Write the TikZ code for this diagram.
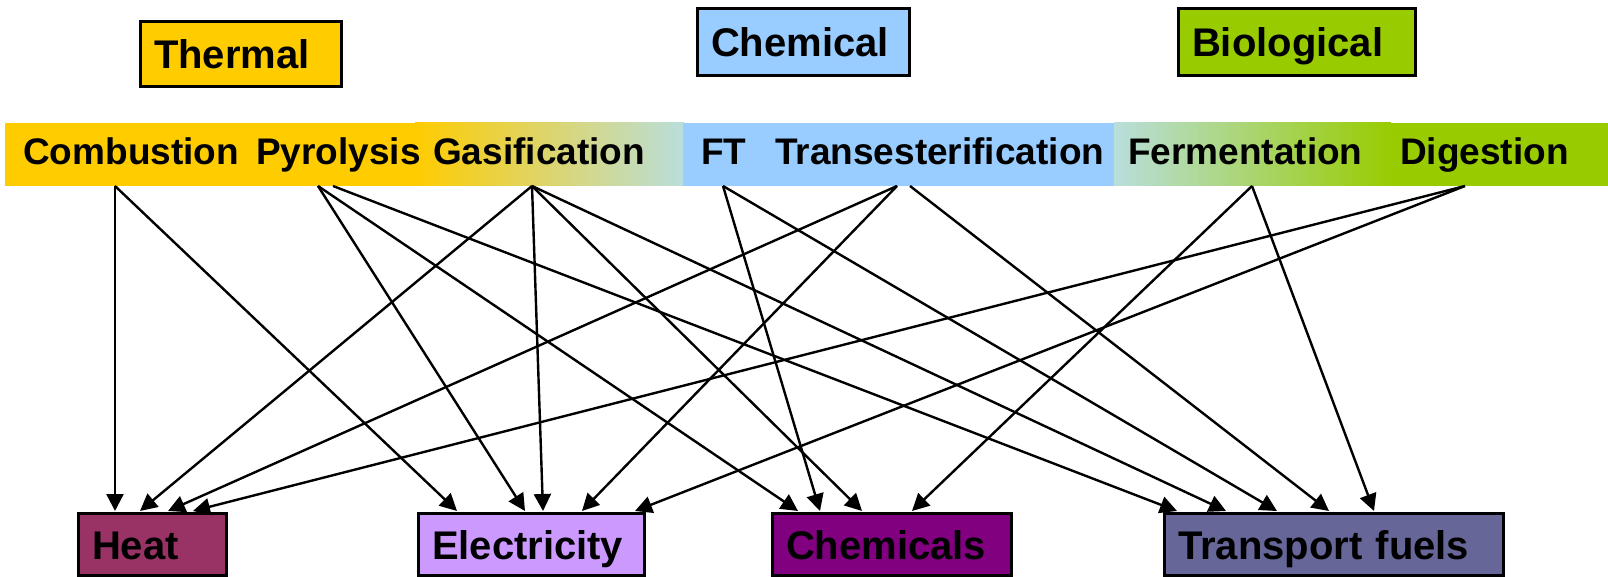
\documentclass[tikz,border=0pt]{standalone}
\usepackage{fontspec}
\setmainfont{Liberation Sans}
\usetikzlibrary{arrows.meta}
\definecolor{thermalc}{HTML}{FFCC00}
\definecolor{chemc}{HTML}{99CCFF}
\definecolor{bioc}{HTML}{99CC00}
\definecolor{tealc}{HTML}{B9DEDC}
\definecolor{heatc}{HTML}{993366}
\definecolor{elecc}{HTML}{CC99FF}
\definecolor{chemsc}{HTML}{800080}
\definecolor{fuelc}{HTML}{666699}
\begin{document}
\begin{tikzpicture}[x=1pt,y=-1pt,
  catbox/.style={draw=black, line width=3pt, inner xsep=13.5pt, inner ysep=0pt,
    text height=29pt, text depth=0pt, align=left,
    font=\fontsize{40pt}{44pt}\selectfont\bfseries, anchor=center},
  bandtxt/.style={inner sep=0pt, anchor=base west,
    font=\fontsize{37pt}{42pt}\selectfont\bfseries},
  flow/.style={line width=2.4pt, -{Triangle[length=17pt,width=17pt]}}
]
\useasboundingbox (0,0) rectangle (1608,577);
% category boxes
\node[catbox, fill=thermalc, minimum width=201pt, text width=174pt, minimum height=65pt] (thermal) at (241,54) {Thermal};
\node[catbox, fill=chemc, minimum width=212pt, text width=185pt, minimum height=67pt] (chemical) at (803.5,42) {Chemical};
\node[catbox, fill=bioc, minimum width=237pt, text width=210pt, minimum height=67pt] (biological) at (1297,42) {Biological};
% process band
\fill[thermalc] (5,123) rectangle (416,186);
\shade[left color=thermalc, right color=tealc] (415,123) rectangle (684,186);
\fill[chemc] (683,123) rectangle (1115,186);
\shade[left color=tealc, right color=bioc] (1114,123) rectangle (1391,186);
\fill[bioc] (1390,123) rectangle (1608,186);
\node[bandtxt] (comb) at (23,165) {Combustion};
\node[bandtxt] (pyro) at (256,165) {Pyrolysis};
\node[bandtxt] (gasi) at (433,165) {Gasification};
\node[bandtxt] (ft) at (701,165) {FT};
\node[bandtxt] (trans) at (775,165) {Transesterification};
\node[bandtxt] (ferm) at (1128,165) {Fermentation};
\node[bandtxt] (dige) at (1400,165) {Digestion};
% product boxes
\node[catbox, fill=heatc, minimum width=148pt, text width=121pt, minimum height=62pt] (heat) at (152.5,544.5) {Heat};
\node[catbox, fill=elecc, minimum width=226pt, text width=199pt, minimum height=62pt] (elec) at (531.5,544.5) {Electricity};
\node[catbox, fill=chemsc, minimum width=239pt, text width=212pt, minimum height=62pt] (chems) at (892,544.5) {Chemicals};
\node[catbox, fill=fuelc, minimum width=339pt, text width=312pt, minimum height=62pt] (fuels) at (1334,544.5) {Transport fuels};
% start points
\coordinate (comb-s) at (115,186);
\coordinate (pyro-s) at (318,186);
\coordinate (pyro-t) at (333,186);
\coordinate (gasi-s) at (532,186);
\coordinate (ft-s) at (723,186);
\coordinate (trans-s) at (897,186);
\coordinate (trans-t) at (910,186);
\coordinate (ferm-s) at (1252,186);
\coordinate (dige-s) at (1465,186);
% end points
\coordinate (heat-1) at (115,511);
\coordinate (heat-2) at (140,511);
\coordinate (heat-3) at (168,511);
\coordinate (heat-4) at (193,511);
\coordinate (elec-1) at (457,511);
\coordinate (elec-2) at (525,511);
\coordinate (elec-3) at (543,511);
\coordinate (elec-4) at (582,511);
\coordinate (elec-5) at (635,511);
\coordinate (chems-1) at (798,511);
\coordinate (chems-2) at (820,511);
\coordinate (chems-3) at (862,511);
\coordinate (chems-4) at (912,511);
\coordinate (fuels-1) at (1177,511);
\coordinate (fuels-2) at (1226,511);
\coordinate (fuels-3) at (1277,511);
\coordinate (fuels-4) at (1329,511);
\coordinate (fuels-5) at (1374,511);
% connectors
\draw[flow] (comb-s) -- (heat-1);
\draw[flow] (comb-s) -- (elec-1);
\draw[flow] (pyro-s) -- (elec-2);
\draw[flow] (pyro-s) -- (chems-1);
\draw[flow] (pyro-t) -- (fuels-1);
\draw[flow] (gasi-s) -- (heat-2);
\draw[flow] (gasi-s) -- (elec-3);
\draw[flow] (gasi-s) -- (chems-3);
\draw[flow] (gasi-s) -- (fuels-2);
\draw[flow] (ft-s) -- (chems-2);
\draw[flow] (ft-s) -- (fuels-3);
\draw[flow] (trans-s) -- (heat-3);
\draw[flow] (trans-s) -- (elec-4);
\draw[flow] (trans-t) -- (fuels-4);
\draw[flow] (ferm-s) -- (chems-4);
\draw[flow] (ferm-s) -- (fuels-5);
\draw[flow] (dige-s) -- (heat-4);
\draw[flow] (dige-s) -- (elec-5);
\end{tikzpicture}
\end{document}
